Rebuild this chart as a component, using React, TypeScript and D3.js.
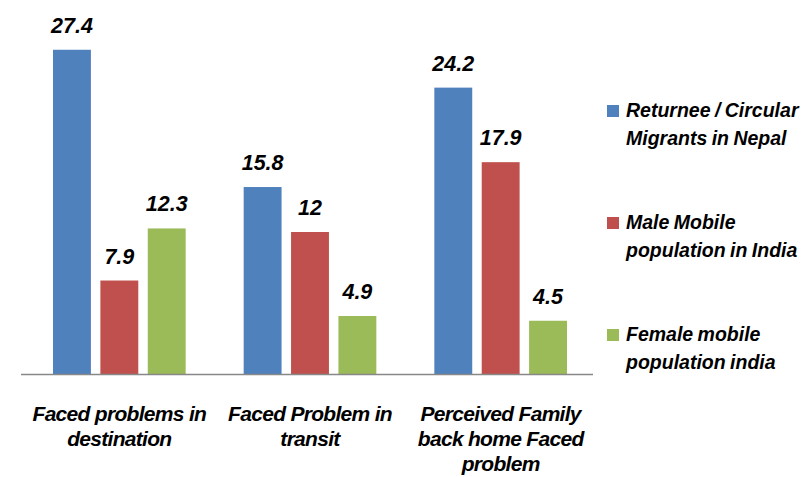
import { useEffect, useRef } from 'react';
import * as d3 from 'd3';

const categories = ['Faced problems in destination', 'Faced Problem in transit', 'Perceived Family back home Faced problem'];
const categoryLines = [['Faced problems in', 'destination'], ['Faced Problem in', 'transit'], ['Perceived Family', 'back home Faced', 'problem']];
const seriesNames = ['Returnee / Circular Migrants in Nepal', 'Male Mobile population in India', 'Female mobile population india'];
const legendLines = [['Returnee / Circular', 'Migrants in Nepal'], ['Male Mobile', 'population in India'], ['Female mobile', 'population india']];
const returnee = [27.4, 15.8, 24.2];
const maleIndia = [7.9, 12, 17.9];
const femaleIndia = [12.3, 4.9, 4.5];
const colors = ['#4f81bd', '#c0504d', '#9bbb59'];

const W = 804;
const H = 477;
const font = '"Liberation Sans", Arial, sans-serif';

export default function App() {
    const ref = useRef<SVGSVGElement>(null);

    useEffect(() => {
        const svg = d3.select(ref.current);
        svg.selectAll('*').remove();

        const series = [returnee, maleIndia, femaleIndia];
        const x = d3.scaleBand<string>().domain(categories).range([24, 596]).paddingInner(0).paddingOuter(0);
        const xs = d3.scaleBand<number>().domain([0, 1, 2]).range([29, x.bandwidth() - 29]).paddingInner(0.2);
        const y = d3.scaleLinear().domain([0, 30]).range([374, 19]);

        const rows = categories.map((c, i) => ({ c, vals: series.map((s) => s[i]) }));

        const g = svg.append('g');
        const groups = g
            .selectAll('g.grp')
            .data(rows)
            .join('g')
            .attr('class', 'grp')
            .attr('transform', (d) => `translate(${x(d.c)},0)`);

        groups
            .selectAll('rect')
            .data((d) => d.vals.map((v, k) => ({ v, k })))
            .join('rect')
            .attr('x', (d) => xs(d.k)!)
            .attr('width', xs.bandwidth())
            .attr('y', (d) => y(d.v))
            .attr('height', (d) => y(0) - y(d.v))
            .attr('fill', (d) => colors[d.k]);

        groups
            .selectAll('text.val')
            .data((d) => d.vals.map((v, k) => ({ v, k })))
            .join('text')
            .attr('class', 'val')
            .attr('x', (d) => xs(d.k)! + xs.bandwidth() / 2)
            .attr('y', (d) => y(d.v) - 17)
            .attr('text-anchor', 'middle')
            .attr('font-family', font)
            .attr('font-size', 21.5)
            .attr('font-weight', 'bold')
            .attr('font-style', 'italic')
            .text((d) => String(d.v));

        // axis baseline
        g.append('line')
            .attr('x1', x.range()[0] - 3)
            .attr('x2', x.range()[1] - 3)
            .attr('y1', y(0) + 0.5)
            .attr('y2', y(0) + 0.5)
            .attr('stroke', '#888888')
            .attr('stroke-width', 1.5);

        // category labels
        const cat = g
            .selectAll('text.cat')
            .data(rows.map((r, i) => ({ c: r.c, lines: categoryLines[i] })))
            .join('text')
            .attr('class', 'cat')
            .attr('x', (d) => x(d.c)! + x.bandwidth() / 2)
            .attr('y', 421)
            .attr('text-anchor', 'middle')
            .attr('font-family', font)
            .attr('font-size', 21)
            .attr('font-weight', 'bold')
            .attr('font-style', 'italic')
            .attr('letter-spacing', -0.7);
        cat.selectAll('tspan')
            .data((d) => d.lines)
            .join('tspan')
            .attr('x', function () {
                return (this.parentNode as SVGTextElement).getAttribute('x');
            })
            .attr('dy', (_d, i) => (i === 0 ? 0 : 25))
            .text((d) => d);

        // legend
        const leg = svg
            .append('g')
            .selectAll('g')
            .data(seriesNames)
            .join('g')
            .attr('transform', (_d, i) => `translate(607,${105 + i * 112})`);
        leg.append('rect').attr('width', 12).attr('height', 12).attr('fill', (_d, i) => colors[i]);
        const lt = leg
            .append('text')
            .attr('x', 19)
            .attr('y', 12)
            .attr('font-family', font)
            .attr('font-size', 19.5)
            .attr('font-weight', 'bold')
            .attr('font-style', 'italic')
            .attr('word-spacing', -1);
        lt.selectAll('tspan')
            .data((_d, i) => legendLines[i])
            .join('tspan')
            .attr('x', 19)
            .attr('dy', (_d, i) => (i === 0 ? 0 : 27.5))
            .text((d) => d);
    }, []);

    return (
        <div style={{ position: 'absolute', left: 0, top: 0, width: W, height: H, background: '#fff' }}>
            <svg ref={ref} width={W} height={H} />
        </div>
    );
}
